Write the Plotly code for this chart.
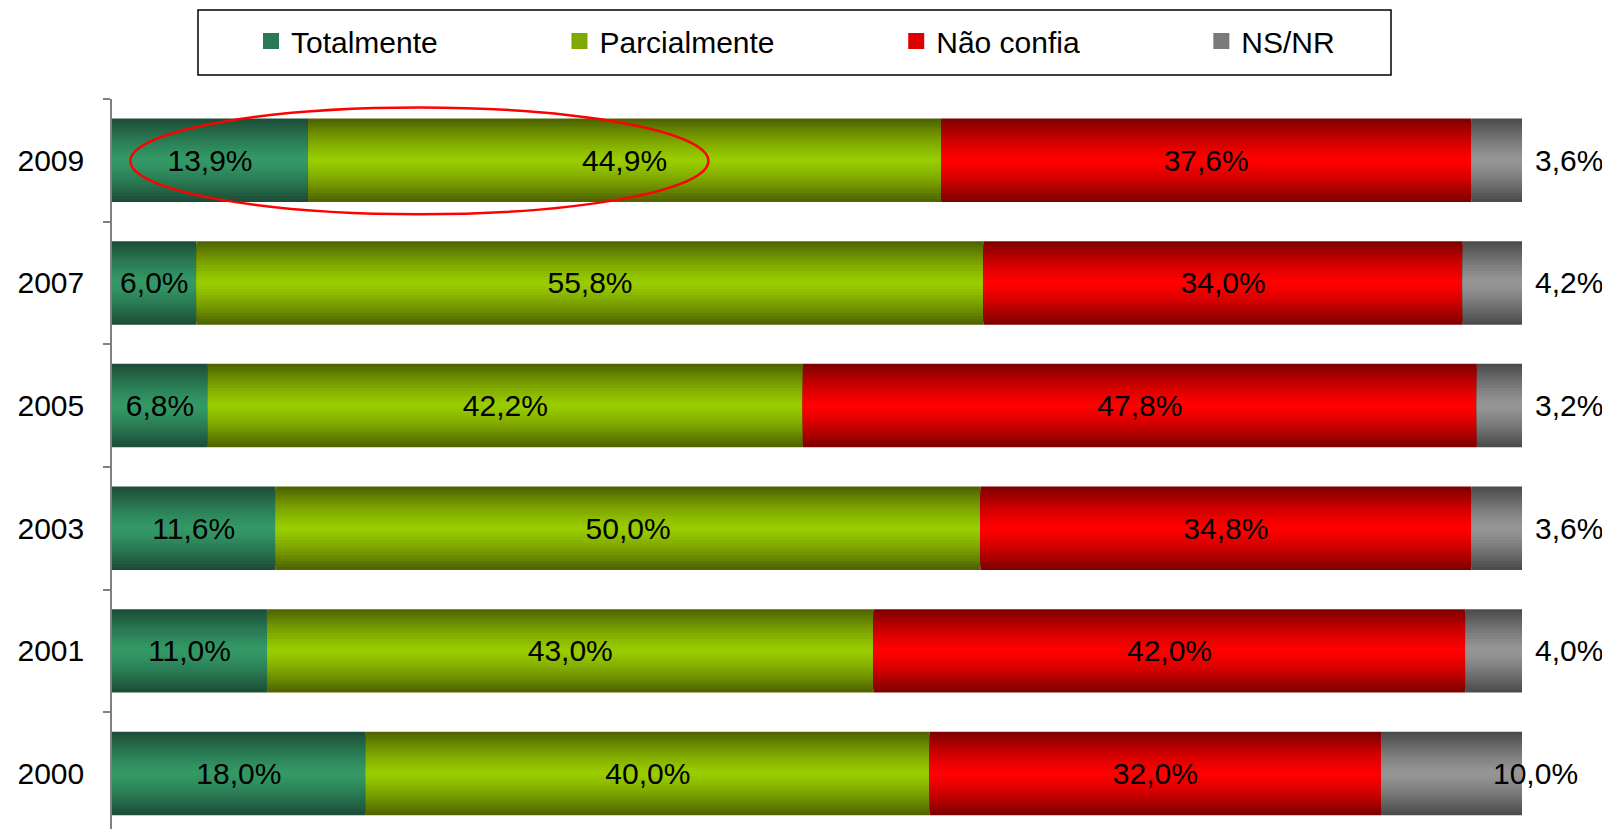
# -*- coding: utf-8 -*-
"""
Confiança por ano: barras empilhadas horizontais (Totalmente / Parcialmente /
Não confia / NS/NR), com gradiente vertical simulado por camadas.
"""
import plotly.graph_objects as go

# ---------------------------------------------------------------------------
# Dados
# ---------------------------------------------------------------------------
years = ['2009', '2007', '2005', '2003', '2001', '2000']
totalmente = [13.9, 6.0, 6.8, 11.6, 11.0, 18.0]
parcialmente = [44.9, 55.8, 42.2, 50.0, 43.0, 40.0]
nao_confia = [37.6, 34.0, 47.8, 34.8, 42.0, 32.0]
ns_nr = [3.6, 4.2, 3.2, 3.6, 4.0, 10.0]

series_names = ['Totalmente', 'Parcialmente', 'Não confia', 'NS/NR']

# ---------------------------------------------------------------------------
# Estilo
# ---------------------------------------------------------------------------
FONT = 'Liberation Sans, Arial, sans-serif'
BAR_W = 0.68
N_LAYERS = 14
# (cor da borda, cor do centro)
palette = [
    ((0x1c, 0x4a, 0x36), (0x33, 0x99, 0x66)),
    ((0x4c, 0x60, 0x00), (0x99, 0xcc, 0x00)),
    ((0x7a, 0x00, 0x00), (0xff, 0x00, 0x00)),
    ((0x48, 0x48, 0x48), (0x96, 0x96, 0x96)),
]
legend_colors = ['#2a7a55', '#7fa800', '#dd0000', '#7a7a7a']
LEGEND_PAD = '\u00a0' * 14

# a página tem 8 px de margem no body: a figura ocupa o resto da janela
FIG_W, FIG_H = 1602, 821
M_L, M_R, M_T, M_B = 104, 88, 91, 0
PLOT_W = FIG_W - M_L - M_R
PLOT_H = FIG_H - M_T - M_B


def lerp_color(c0, c1, t):
    r, g, b = (round(a + (b_ - a) * t) for a, b_ in zip(c0, c1))
    return f'rgb({r},{g},{b})'


def fmt(v):
    return f'{v:.1f}'.replace('.', ',') + '%'


values = [totalmente, parcialmente, nao_confia, ns_nr]

# bases acumuladas
bases = []
acc = [0.0] * len(years)
for vals in values:
    bases.append(list(acc))
    acc = [a + v for a, v in zip(acc, vals)]

fig = go.Figure()

for s, (name, vals, base) in enumerate(zip(series_names, values, bases)):
    edge, center = palette[s]
    for k in range(N_LAYERS):
        frac = 1 - k / N_LAYERS
        t = 1 - (1 - (k + 0.5) / N_LAYERS) ** 1.3
        color = lerp_color(edge, center, min(1, t))
        fig.add_trace(go.Bar(
            y=years, x=vals, base=base, orientation='h',
            width=BAR_W * frac,
            marker=dict(color=color, line=dict(width=0)),
            name=name, showlegend=False, hoverinfo='skip',
        ))

# rótulos dentro das barras (3 primeiras séries)
for s in range(3):
    fig.add_trace(go.Bar(
        y=years, x=values[s], base=bases[s], orientation='h',
        width=BAR_W,
        marker=dict(color='rgba(0,0,0,0)', line=dict(width=0)),
        text=[fmt(v) for v in values[s]],
        textposition='inside', insidetextanchor='middle',
        textfont=dict(family=FONT, size=30, color='black'),
        constraintext='none',
        showlegend=False,
        hovertemplate=series_names[s] + ' %{y}: %{text}<extra></extra>',
    ))

# entradas da legenda (quadrados maiores)
for s, name in enumerate(series_names):
    label = name + (LEGEND_PAD if s < len(series_names) - 1 else '')
    fig.add_trace(go.Scatter(
        x=[None], y=[None], mode='markers', name=label,
        marker=dict(symbol='square', size=16, color=legend_colors[s]),
        showlegend=True,
    ))

# rótulos NS/NR à direita (y pelo índice da categoria)
annotations = []
for i, (v, b) in enumerate(zip(ns_nr, bases[3])):
    annotations.append(dict(
        x=(b + v) / 100, y=i, xref='paper', yref='y', text=fmt(v),
        showarrow=False, xanchor='left', yanchor='middle',
        xshift=11 if v < 5 else -31,
        font=dict(family=FONT, size=30, color='black'),
    ))

shapes = [
    # elipse destacando 2009
    dict(type='circle', xref='x', yref='y',
         x0=1.3, x1=42.3, y0=-0.43, y1=0.44,
         line=dict(color='red', width=2.5)),
    # moldura da legenda
    dict(type='rect', xref='paper', yref='paper',
         x0=(190 - M_L) / PLOT_W, x1=(1383 - M_L) / PLOT_W,
         y0=(FIG_H - 67) / PLOT_H, y1=(FIG_H - 2) / PLOT_H,
         line=dict(color='black', width=1.5), fillcolor='rgba(0,0,0,0)'),
]

fig.update_layout(
    barmode='overlay',
    width=FIG_W, height=FIG_H,
    margin=dict(l=M_L, r=M_R, t=M_T, b=M_B, autoexpand=False),
    plot_bgcolor='white', paper_bgcolor='white',
    font=dict(family=FONT, size=30, color='black'),
    xaxis=dict(visible=False, range=[0, 100], fixedrange=True),
    yaxis=dict(
        type='category', categoryorder='array', categoryarray=years,
        range=[5.453, -0.5],
        showline=True, linecolor='#808080', linewidth=1.5,
        ticks='outside', tickson='boundaries', ticklen=7,
        tickcolor='#808080', tickwidth=1.5,
        ticklabelstandoff=20,
        tickfont=dict(family=FONT, size=30, color='black'),
        showgrid=False, zeroline=False, fixedrange=True,
    ),
    legend=dict(
        orientation='h',
        x=(243 - M_L) / PLOT_W, xanchor='left',
        y=1 - 7 / FIG_H, yref='container', yanchor='top',
        borderwidth=0, bgcolor='rgba(0,0,0,0)',
        font=dict(family=FONT, size=30, color='black'),
        itemclick=False, itemdoubleclick=False,
    ),
    annotations=annotations,
    shapes=shapes,
)

fig.write_html('out.html')
